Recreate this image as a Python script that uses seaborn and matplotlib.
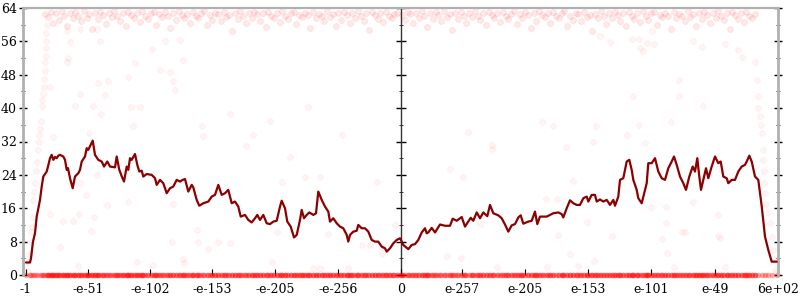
import matplotlib
matplotlib.use("Agg")
import matplotlib.pyplot as plt
import numpy as np
import pandas as pd
import seaborn as sns

# ---------------- data ----------------
xtick_pos = [0, 62, 124, 186, 249, 312, 374.7, 436, 499, 562, 625, 689, 752]
xtick_labels = ["-1", "-e-51", "-e-102", "-e-153", "-e-205", "-e-256", "0",
                "e-257", "e-205", "e-153", "e-101", "e-49", "6e+02"]
ytick_major = [0, 8, 16, 24, 32, 40, 48, 56, 64]
ytick_minor = [4, 12, 20, 28, 36, 44, 52, 60]

line_left = [
    (0, 3), (4, 3), (5, 4), (7, 8), (9, 10), (10.7, 14), (14, 18), (15.7, 21.2), (17.3, 23.6), (20.7, 24.8),
    (22, 26), (24, 28), (25.7, 28.8), (27.3, 27.6), (29, 28.3), (30.7, 28), (32.3, 28.6), (34, 28.8), (37.3, 28.4),
    (39, 27.6), (40.7, 25.2), (42, 25.6), (44, 23.2), (46.7, 20.8), (49, 23.6), (52.3, 24.4), (54, 25.2),
    (55.7, 27.2), (59, 28.4), (60.7, 30.4), (62.3, 30), (64.7, 31.2), (66.7, 32.2), (69, 28.8), (70.7, 28.2),
    (72.3, 27.6), (75.7, 27.2), (78, 26), (81.3, 27.2), (84, 26), (89, 25.8), (90.7, 28.4), (93.3, 25.2),
    (96, 23.5), (98, 22.4), (100.7, 26), (102.3, 25.2), (104, 28), (105.7, 27.6), (109, 29), (111.3, 26.4),
    (113.3, 24.8), (115.7, 25), (117.3, 23.6), (120.7, 24.2), (125.7, 24), (129, 23.2), (130.7, 21.6),
    (134, 22.8), (137.3, 22), (140.7, 19.6), (144, 20.8), (147.3, 21.2), (150.7, 22.8), (154, 22.4),
    (156.7, 22.8), (159, 23), (162.3, 20), (165.7, 21.6), (167.3, 21), (170.7, 18), (173.3, 16.6),
    (177.3, 17.2), (182.3, 17.6), (185.7, 18.8), (189, 19.2), (192.3, 21.6), (195.7, 19.2), (199, 19.6),
    (202.3, 20.4), (205.7, 17.2), (209, 17.6), (212.3, 16.4), (214.7, 14), (219, 14.4), (222.3, 13.2),
    (225.7, 12.6), (229, 13.6), (231.3, 14.4), (234, 13.2), (237.3, 14.4), (240.7, 12.4), (244, 12.2),
    (247.3, 12.8), (250.7, 13), (254, 16.4), (255.7, 17.8), (259, 16), (261.3, 12.8), (264.7, 11.6),
    (268, 9), (270.7, 9.6), (274, 13.2), (275.7, 15.6), (278, 13.6), (280.7, 14.4), (283.3, 15),
    (287.3, 14.4), (290, 14.8), (292.3, 20), (295.7, 18), (299, 16.4), (302.3, 15.2), (304, 12.8),
    (307.3, 13.6), (310.7, 12.4), (314, 11.6), (317.3, 11.2), (320.7, 9.6), (322.3, 8), (324, 9.6),
    (327.3, 10.4), (330.7, 10.6), (332.3, 12), (335.7, 11.2), (339, 11.2), (342.3, 10.4), (345.7, 8.4),
    (349, 8), (352.3, 8), (355.7, 6.8), (359, 6.4), (360.7, 5.6), (364, 6.4), (367.3, 7.6), (370.7, 8.4),
    (374, 8.8),
]

line_right = [
    (375, 8.4), (377.3, 7.2), (382.3, 6.2), (385.7, 7.2), (389, 7.4), (392.3, 8.4), (395.7, 10.2), (399, 11.2),
    (400.7, 10), (402.3, 10.2), (405.7, 11.3), (409, 10.2), (414, 12.1), (419, 11.8), (424, 11.8),
    (426.7, 13.5), (430.7, 13), (435.7, 13.9), (439, 11.6), (444.7, 13.7), (447.3, 13), (450.7, 15),
    (454, 13.6), (457.3, 15), (461.3, 14.1), (464, 16.8), (467.3, 14.8), (472.3, 14.3), (475.7, 13.6),
    (479, 12.1), (482.3, 10.4), (485.7, 11.9), (489, 12.2), (492.3, 13.8), (494.7, 14.3), (497.3, 12.3),
    (502.3, 12.8), (505.7, 13), (509, 15.2), (511.3, 12.2), (514, 14), (517.3, 14), (520.7, 14),
    (524, 14.4), (527.3, 14.8), (532.3, 15), (535.7, 14.6), (537.3, 13.8), (540.7, 16), (544, 17.9),
    (547.3, 17.2), (550.7, 16.8), (554, 16.8), (557.3, 18.4), (560.7, 18.8), (562.3, 17.6), (565.7, 19.2),
    (569, 19.2), (570.7, 17.6), (574, 18.1), (577.3, 17.6), (580.7, 18), (584, 16.8), (587.3, 18),
    (589, 16.6), (592.3, 18.8), (594, 22.8), (597.3, 23.2), (600.7, 27.2), (603.3, 27.6), (605.7, 25.2),
    (607.3, 22.8), (610.7, 20.4), (612.3, 18.4), (615.7, 17.2), (619, 20.4), (620.7, 22), (622.3, 26.8),
    (625.7, 26.8), (629, 28), (632.3, 24.8), (635.7, 23.2), (639, 22.8), (642.3, 25.6), (645.7, 27.2),
    (648, 28.4), (650.7, 26.4), (654, 23.6), (657.3, 22), (660, 20.4), (663.3, 23.6), (666.7, 26),
    (669, 24.8), (671.3, 28), (673.3, 23.6), (675, 20.4), (677.3, 22.8), (680, 25.6), (682.3, 23.2),
    (685.7, 26), (689, 28.4), (692.3, 26.8), (694.7, 27.2), (697.3, 23.6), (700.7, 23.2), (702.3, 22),
    (705.7, 22.8), (709, 22.8), (712.3, 24.8), (715.7, 26), (719, 26.4), (720.7, 27.2), (723.3, 28.6),
    (725.7, 27.2), (729, 23.6), (732.3, 22.8), (735.7, 16.5), (739, 9.2), (742.3, 6), (745.7, 3.2),
    (750.7, 3.2),
]

band_left = [
    (19, 62.5), (22, 61.8), (25, 63.1), (27, 60.4), (30, 62.9), (33, 61.2), (36, 63.3), (38, 62.0), (41, 59.6), (44, 62.7),
    (47, 61.5), (49, 63.0), (52, 62.2), (55, 60.9), (58, 63.2), (61, 61.7), (63, 62.6), (66, 58.9), (69, 62.8), (72, 61.3),
    (74, 63.1), (77, 62.4), (80, 60.2), (83, 62.9), (86, 61.9), (88, 63.3), (91, 62.1), (94, 61.0), (97, 62.7), (100, 59.8),
    (102, 63.0), (105, 62.3), (108, 61.6), (111, 62.9), (114, 60.7), (116, 63.2), (119, 62.0), (122, 61.4), (125, 62.8), (128, 63.1),
    (130, 60.0), (133, 62.5), (136, 61.8), (139, 63.0), (142, 62.2), (144, 59.3), (147, 62.9), (150, 61.1), (153, 63.2), (156, 62.4),
    (158, 61.7), (161, 62.6), (164, 60.5), (167, 63.1), (170, 62.0), (172, 61.5), (175, 62.8), (178, 63.3), (181, 59.9), (184, 62.3),
    (186, 61.2), (189, 62.9), (192, 62.6), (195, 60.8), (198, 63.0), (200, 61.9), (203, 62.4), (206, 58.6), (209, 62.7), (212, 61.4),
    (214, 63.2), (217, 62.1), (220, 60.3), (223, 62.8), (226, 61.7), (228, 63.0), (231, 62.5), (234, 61.0), (237, 62.9), (240, 59.5),
    (242, 63.1), (245, 62.2), (248, 61.6), (251, 62.7), (254, 60.6), (256, 63.3), (259, 62.0), (262, 61.3), (265, 62.8), (268, 63.0),
    (270, 60.1), (273, 62.4), (276, 61.8), (279, 62.9), (282, 62.3), (284, 59.1), (287, 63.1), (290, 61.5), (293, 62.6), (296, 62.0),
    (298, 60.9), (301, 63.2), (304, 61.9), (307, 62.5), (310, 59.7), (312, 62.8), (315, 61.2), (318, 63.0), (321, 62.4), (324, 60.4),
    (326, 62.9), (329, 61.6), (332, 63.2), (335, 62.1), (338, 61.0), (340, 62.7), (343, 58.8), (346, 63.1), (349, 62.3), (352, 61.4),
    (354, 62.8), (357, 60.7), (360, 63.0), (363, 62.2), (366, 61.7), (368, 62.6), (371, 62.9),
]

band_right = [
    (376, 62.3), (379, 61.1), (382, 63.0), (384, 62.6), (387, 60.3), (390, 62.9), (393, 61.6), (396, 63.2), (398, 62.0), (401, 59.4),
    (404, 62.8), (407, 61.3), (410, 63.1), (412, 62.4), (415, 60.8), (418, 63.3), (421, 61.9), (424, 62.5), (426, 58.7), (429, 62.9),
    (432, 61.4), (435, 63.0), (438, 62.2), (440, 60.5), (443, 62.8), (446, 61.8), (449, 63.2), (452, 62.1), (454, 61.2), (457, 62.7),
    (460, 59.9), (463, 63.1), (466, 62.4), (468, 61.5), (471, 62.9), (474, 60.6), (477, 63.0), (480, 62.0), (482, 61.3), (485, 62.6),
    (488, 63.2), (491, 60.2), (494, 62.5), (496, 61.7), (499, 63.1), (502, 62.3), (505, 59.2), (508, 62.9), (510, 61.0), (513, 63.3),
    (516, 62.4), (519, 61.8), (522, 62.7), (524, 60.4), (527, 63.0), (530, 62.1), (533, 61.6), (536, 62.8), (538, 63.2), (541, 59.8),
    (544, 62.2), (547, 61.1), (550, 62.9), (552, 62.5), (555, 60.9), (558, 63.1), (561, 61.9), (564, 62.3), (566, 58.5), (569, 62.6),
    (572, 61.5), (575, 63.2), (578, 62.0), (580, 60.1), (583, 62.8), (586, 61.7), (589, 63.0), (592, 62.4), (594, 61.0), (597, 62.9),
    (600, 59.6), (603, 63.1), (606, 62.2), (608, 61.4), (611, 62.7), (614, 60.7), (617, 63.3), (620, 62.0), (622, 61.2), (625, 62.8),
    (628, 63.0), (631, 60.0), (634, 62.4), (636, 61.9), (639, 62.9), (642, 62.2), (645, 59.0), (648, 63.1), (650, 61.6), (653, 62.5),
    (656, 62.1), (659, 60.8), (662, 63.2), (664, 61.8), (667, 62.6), (670, 59.7), (673, 62.9), (676, 61.3), (678, 63.0), (681, 62.3),
    (684, 60.3), (687, 62.8), (690, 61.5), (692, 63.2), (695, 62.0), (698, 61.1), (701, 62.7), (704, 58.9), (706, 63.1), (709, 62.4),
    (712, 61.4), (715, 62.9), (718, 60.6), (720, 63.0), (723, 62.2), (726, 61.7), (729, 62.6),
]

sparse_pts = [
    (49, 40.4), (67.3, 40.4), (75, 38.6), (105, 40.2), (114, 40.3), (107, 35.6), (27.3, 33), (63.3, 34),
    (175.7, 35.8), (177, 33.4), (204, 38.6), (220, 31), (227, 33.6), (244, 37), (264, 28.3), (282, 40.2),
    (279, 23.4), (294, 23.6), (350.7, 22.4), (315.7, 33.6), (54, 22), (71.3, 24), (60, 19.2), (81.3, 16.8),
    (102.3, 17.6), (24, 14.6), (37.3, 13), (47.3, 13), (53, 14.6), (68.3, 13.8), (64.7, 10.6), (34, 6.6),
    (147.3, 17), (170.7, 10.8), (145.7, 7.8), (172.3, 7.8), (192.3, 7.8), (204, 7.6), (250.7, 10.4),
    (255.7, 22.4), (302.3, 9.8), (335.7, 7.2), (344, 7.2), (355.7, 6.8), (52.3, 2.2), (110.7, 3.2),
    (127.3, 2.3), (157.3, 3.8), (158.3, 2.8), (182.3, 6.2), (245.7, 3.2), (287.3, 1.6), (294, 1.6),
    (322.3, 1.6), (369, 12), (356.3, 5),
    (40.7, 58.4), (40.7, 51), (42.3, 52), (44, 55.8), (54, 58.9), (70.7, 58.9), (74, 56), (72.3, 46),
    (82.3, 46.4), (54, 43.4), (79, 43.2), (102.3, 47.5), (109, 50.9), (125.7, 54.2), (134, 49.2),
    (144, 48.6), (147.3, 46.4), (149, 44.4), (139, 56), (154, 56.4), (157.3, 51.6), (24, 45),
    (442.3, 34.2), (424, 25.4), (437.3, 23.4), (465.7, 31.2), (465.7, 30.2), (454, 12.2), (515.7, 36.6),
    (526.7, 35.8), (539.7, 30.6), (546.7, 22.6), (530.7, 18.2), (520, 18.2), (531.7, 9.6), (567.3, 32),
    (570, 35.8), (600.7, 33.6), (613.3, 36), (619, 31.6), (644.7, 36.6), (677.3, 40.4), (667.3, 17.4),
    (692.3, 14.4), (624.7, 16.2), (640, 16.2), (639.7, 12.4), (655.7, 10.4), (692.3, 9.4), (635.7, 8.6),
    (586.3, 9.4), (420.7, 4.6), (435, 4), (470.7, 2), (520.7, 1.8), (544, 5), (552.3, 2.2), (568.3, 3.4),
    (560.7, 12.8), (648, 2), (659, 10.3), (694, 8.8), (699, 2), (640.7, 5.2),
    (574, 57.2), (584, 55.8), (605.7, 56.6), (613.3, 56.6), (620.7, 55.6), (614, 54.4), (617.3, 53.8),
    (628, 55.4), (653.3, 46.8), (653, 43), (606.7, 43), (667.3, 56), (675.7, 54.6), (699, 55.3),
    (712.3, 54), (715.7, 52.2), (625.7, 58.4),
]

edge_pts = [
    (1, 1), (2, 3), (3, 5), (4, 8), (4.5, 10.4), (5.7, 11.6), (6.5, 14), (7.3, 18), (8.3, 20), (9, 22),
    (10, 25), (10.7, 27), (11.5, 30), (12.5, 32), (13.3, 33.5), (14, 35), (14.8, 37), (15.7, 40.4),
    (16.3, 42), (17, 43.5), (17.7, 45), (18.3, 47), (19, 49), (19.3, 51), (19.5, 52.5), (19.8, 54.5),
    (20, 56), (20.3, 58), (20.6, 60),
    (729, 51), (730.7, 46.8), (732, 42.8), (732.3, 40), (733.5, 38), (734.5, 36), (735.7, 34),
    (736.5, 30), (737.3, 27.6), (737.8, 25), (738, 22), (738.5, 19.6), (740, 17), (742.3, 15.2),
    (743.5, 12.5), (745.7, 9.2), (747, 6), (748.5, 3.5), (749.5, 1.5), (750.5, 0.5),
]

# every sampled input also has points with zero error
zero_x = [p[0] for p in line_left + line_right + band_left + band_right]

# ---------------- build frames ----------------
line_df = pd.DataFrame(line_left + line_right, columns=["x", "y"])
band_df = pd.DataFrame(band_left + band_right, columns=["x", "y"])
sparse_df = pd.DataFrame(sparse_pts + edge_pts, columns=["x", "y"])
zero_df = pd.DataFrame({"x": zero_x, "y": [0.0] * len(zero_x)})

# ---------------- plot ----------------
sns.set_theme(style="white")
plt.rcParams["font.family"] = ["DejaVu Serif"]

fig = plt.figure(figsize=(8, 3), dpi=100)
ax = fig.add_axes([23 / 800, 25 / 300, 755 / 800, 267 / 300])

sns.scatterplot(data=zero_df, x="x", y="y", ax=ax, color="#ff0000", alpha=0.35,
                s=16, linewidth=0, clip_on=False, zorder=2)
sns.scatterplot(data=band_df, x="x", y="y", ax=ax, color="#ff2020", alpha=0.10,
                s=18, linewidth=0.5, edgecolor="#ff0000", clip_on=False, zorder=2)
sns.scatterplot(data=sparse_df, x="x", y="y", ax=ax, color="#ff2020", alpha=0.05,
                s=18, linewidth=0.5, edgecolor="#ff0000", clip_on=False, zorder=2)
sns.lineplot(data=line_df, x="x", y="y", ax=ax, color="#8b0000", linewidth=1.6,
             estimator=None, sort=False, zorder=4)

xmin, xmax = -3, 752
ax.set_xlim(xmin, xmax)
ax.set_ylim(0, 64)
ax.set_xlabel("")
ax.set_ylabel("")

ax.set_xticks(xtick_pos)
ax.set_xticklabels(xtick_labels)
ax.set_yticks(ytick_major)
ax.set_yticks(ytick_minor, minor=True)

for side in ["left", "right", "top"]:
    ax.spines[side].set_visible(True)
    ax.spines[side].set_color("#b0b0b0")
ax.spines["left"].set_linewidth(2)
ax.spines["right"].set_linewidth(2)
ax.spines["top"].set_linewidth(1.6)
ax.spines["bottom"].set_visible(False)

ax.tick_params(axis="x", which="major", direction="in", length=4.5, width=0.8,
               color="black", bottom=True, top=False, pad=6, labelsize=9, labelcolor="black")
ax.tick_params(axis="y", which="major", direction="inout", length=6, width=1.0,
               color="black", left=True, right=True, labelright=False, pad=1.5,
               labelsize=9, labelcolor="black")
ax.tick_params(axis="y", which="minor", direction="inout", length=3.2, width=0.7,
               color="#333333", left=True, right=True)

# middle axis at the "0" position
mid = xtick_pos[6]
sec = ax.secondary_yaxis((mid - xmin) / (xmax - xmin))
sec.set_yticks(ytick_major)
sec.set_yticks(ytick_minor, minor=True)
for s in sec.spines.values():
    s.set_visible(False)
sec.spines["left"].set_visible(True)
sec.spines["left"].set_color("#333333")
sec.spines["left"].set_linewidth(1.0)
sec.tick_params(axis="y", which="major", direction="inout", length=7, width=1.0,
                color="black", labelleft=False, labelright=False, left=True, right=False)
sec.tick_params(axis="y", which="minor", direction="inout", length=3.5, width=0.7,
                color="#333333", left=True, right=False)

fig.savefig("out.png", dpi=100)
